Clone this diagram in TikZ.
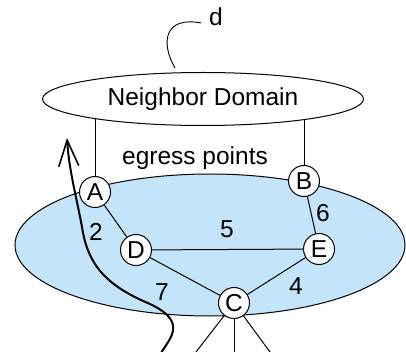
\documentclass[tikz,border=0pt]{standalone}
\usepackage{fontspec}
\setmainfont{Liberation Sans}
\usetikzlibrary{shapes.geometric,arrows.meta}
\definecolor{domblue}{RGB}{196,228,250}
\begin{document}
\begin{tikzpicture}[x=1pt,y=-1pt,
  txt/.style={font=\fontsize{24.5}{28}\selectfont, inner sep=0pt},
  router/.style={circle, draw, fill=white, minimum size=31pt, inner sep=0pt, line width=1pt, font=\fontsize{24.5}{28}\selectfont},
  link/.style={line width=1pt},
  thin/.style={line width=0.9pt}]
\useasboundingbox (0,0) rectangle (406,352);
% domain
\node[ellipse, draw, fill=domblue, line width=1pt, minimum width=390pt, minimum height=142pt, inner sep=0pt] (dom) at (210,245) {};
% neighbor domain
\coordinate (la) at (95,110);
\coordinate (lb) at (304,110);
\node[router] (A) at (95,192) {A};
\node[router] (B) at (304,181) {B};
\node[router] (D) at (136,250) {D};
\node[router] (E) at (319,249) {E};
\node[router] (C) at (234,303) {C};
\draw[thin] (A) -- (la);
\draw[thin] (B) -- (lb);
\node[ellipse, draw, fill=white, line width=1pt, minimum width=321pt, minimum height=53pt, inner sep=0pt, txt] (ND) at (203,99) {Neighbor Domain};
\node[txt] (eg) at (195,158) {egress points};
% links
\draw[link] (A) -- (D);
\draw[link] (D) -- (E);
\draw[link] (B) -- (E);
\draw[link] (D) -- (C);
\draw[link] (E) -- (C);
\coordinate (c1) at (196,352);
\coordinate (c2) at (234,352);
\coordinate (c3) at (270,352);
\draw[link] (C) -- (c1);
\draw[link] (C) -- (c2);
\draw[link] (C) -- (c3);
% labels
\node[txt] (l2) at (96,232) {2};
\node[txt] (l5) at (227,229) {5};
\node[txt] (l6) at (323,213) {6};
\node[txt] (l7) at (162,292) {7};
\node[txt] (l4) at (296,286) {4};
% d label
\node[txt] (d) at (216,17) {d};
\coordinate (d0) at (201,23);
\coordinate (d1) at (175,68);
\draw[thin] (d0) .. controls (165,16) and (160,42) .. (d1);
% path arrow
\coordinate (p0) at (161,353);
\coordinate (p1) at (67,138);
\draw[line width=2pt, -{Straight Barb[length=26pt,width=20pt,line width=1.6pt]}]
  (p0) .. controls (170,338) and (188,322) .. (150,304)
       .. controls (110,287) and (88,268) .. (82,227)
       .. controls (76,195) and (69,170) .. (p1);
\end{tikzpicture}
\end{document}
